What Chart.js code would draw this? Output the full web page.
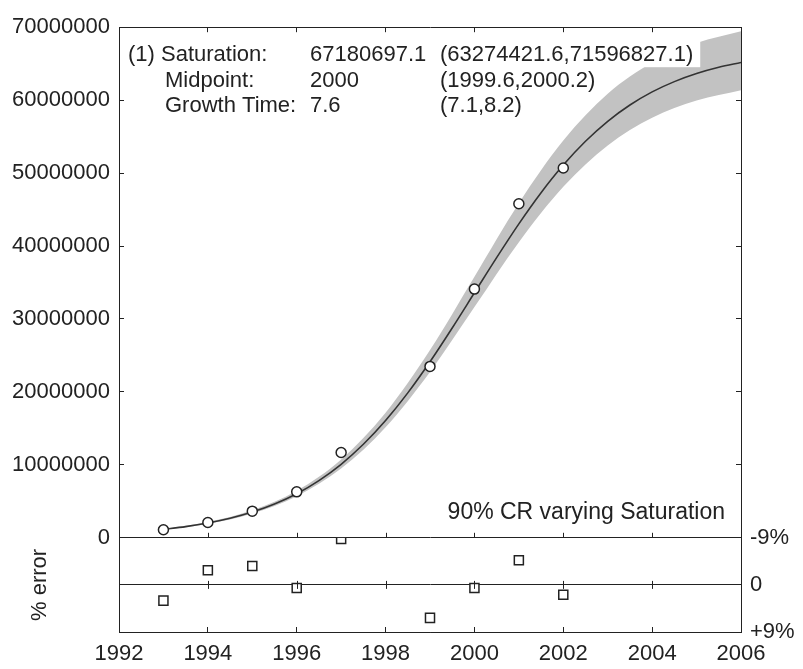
<!DOCTYPE html>
<html>
<head>
<meta charset="utf-8">
<script src="https://cdn.jsdelivr.net/npm/chart.js@4.4.1/dist/chart.umd.min.js"></script>
<style>
  html, body { margin: 0; padding: 0; background: #fff; }
</style>
</head>
<body>
<canvas id="logistic-chart" width="803" height="669"></canvas>
<script>
// observed points
const obsYears = [1993, 1994, 1995, 1996, 1997, 1999, 2000, 2001, 2002];
const obsValues = [1100000, 2100000, 3650000, 6300000, 11700000, 23500000, 34100000, 45800000, 50700000];
// percent error of each point (lower panel, -9% on top)
const errValues = [3.0, -2.8, -3.6, 0.6, -8.8, 6.3, 0.6, -4.7, 1.9];

// fitted curve, read every half year
const fitYears = [1993, 1993.5, 1994, 1994.5, 1995, 1995.5, 1996, 1996.5, 1997, 1997.5, 1998, 1998.5, 1999, 1999.5,
    2000, 2000.5, 2001, 2001.5, 2002, 2002.5, 2003, 2003.5, 2004, 2004.5, 2005, 2005.5, 2006];
const fitValues = [1150000, 1530000, 2030000, 2680000, 3530000, 4640000, 6050000, 7850000, 10080000, 12820000,
    16080000, 19870000, 24140000, 28770000, 33590000, 38410000, 43040000, 47310000, 51100000, 54360000,
    57100000, 59330000, 61130000, 62540000, 63650000, 64500000, 65160000];

// 90% CR band (varying saturation)
const bandYears = [1993, 1994, 1995, 1996, 1997, 1998, 1999, 2000, 2001, 2002, 2003, 2004, 2005, 2006];
const bandUpper = [1230000, 2160000, 3770000, 6450000, 10740000, 17140000, 25730000, 35800000, 45870000,
    54460000, 60860000, 65150000, 67830000, 69440000];
const bandLower = [1090000, 1910000, 3330000, 5700000, 9490000, 15150000, 22740000, 31640000, 40530000,
    48120000, 53780000, 57570000, 59940000, 61370000];

const xTicks = [1992, 1994, 1996, 1998, 2000, 2002, 2004, 2006];

const infoLines = [
    ['(1) Saturation:', '67180697.1', '(63274421.6,71596827.1)'],
    ['Midpoint:', '2000', '(1999.6,2000.2)'],
    ['Growth Time:', '7.6', '(7.1,8.2)']
];
const bandNote = '90% CR varying Saturation';

const ink = '#222';
const fontFamily = '"Liberation Sans", Arial, sans-serif';
const tickFont = { family: fontFamily, size: 22 };

const toPoints = (xs, ys) => xs.map((x, i) => ({ x: x, y: ys[i] }));
const setWidth = w => scale => { scale.width = w; };
const setHeight = h => scale => { scale.height = h; };

// keep the error squares inside their own panel
const clipErr = {
    id: 'clipErr',
    beforeDatasetDraw(chart, args) {
        if (args.meta.yAxisID !== 'yErr') return;
        const s = chart.scales.yErr, a = chart.chartArea;
        chart.ctx.save();
        chart.ctx.beginPath();
        chart.ctx.rect(a.left, s.top, a.right - a.left, s.bottom - s.top);
        chart.ctx.clip();
    },
    afterDatasetDraw(chart, args) {
        if (args.meta.yAxisID === 'yErr') chart.ctx.restore();
    }
};

// small x ticks on the separator and on the zero line
const panelTicks = {
    id: 'panelTicks',
    afterDraw(chart) {
        const { ctx, scales: { x, yErr } } = chart;
        const yTop = yErr.getPixelForValue(-9);
        const yMid = yErr.getPixelForValue(0);
        ctx.save();
        ctx.strokeStyle = ink;
        ctx.lineWidth = 1;
        ctx.beginPath();
        x.ticks.forEach(t => {
            const px = Math.round(x.getPixelForValue(t.value)) + 0.5;
            ctx.moveTo(px, yTop - 5); ctx.lineTo(px, yTop);
            ctx.moveTo(px, yMid - 4); ctx.lineTo(px, yMid + 4);
        });
        ctx.stroke();
        ctx.restore();
    }
};

// fit parameters text block
const infoText = {
    id: 'infoText',
    afterDatasetsDraw(chart) {
        const { ctx, chartArea: a, scales: { y } } = chart;
        const cols = [[9, 46], [191, 191], [321, 321]];
        const rows = [34, 59.5, 85];
        ctx.save();
        ctx.font = '22px ' + fontFamily;
        ctx.textBaseline = 'alphabetic';
        infoLines.forEach((line, r) => {
            const by = a.top + rows[r];
            const x0 = a.left + (r === 0 ? cols[0][0] : cols[0][1]);
            const last = line[line.length - 1];
            const x1 = a.left + cols[2][0] + ctx.measureText(last).width;
            ctx.fillStyle = '#fff';
            ctx.fillRect(x0 - 3, by - 20, x1 - x0 + 10, 26);
            ctx.fillStyle = ink;
            ctx.textAlign = 'left';
            ctx.fillText(line[0], x0, by);
            ctx.fillText(line[1], a.left + cols[1][0], by);
            ctx.fillText(line[2], a.left + cols[2][0], by);
        });
        ctx.font = '23px ' + fontFamily;
        ctx.textAlign = 'right';
        ctx.fillText(bandNote, a.right - 16, y.getPixelForValue(0) - 19);
        ctx.restore();
    }
};

new Chart(document.getElementById('logistic-chart'), {
    type: 'line',
    data: {
        datasets: [{
            label: 'Data',
            data: toPoints(obsYears, obsValues),
            showLine: false,
            pointStyle: 'circle',
            pointRadius: 5,
            pointBackgroundColor: '#fff',
            pointBorderColor: ink,
            pointBorderWidth: 1.5,
            yAxisID: 'y'
        }, {
            label: '% error',
            data: toPoints(obsYears, errValues),
            showLine: false,
            pointStyle: 'rect',
            pointRadius: 6.4,
            pointBackgroundColor: '#fff',
            pointBorderColor: ink,
            pointBorderWidth: 1.5,
            yAxisID: 'yErr'
        }, {
            label: 'Fit',
            data: toPoints(fitYears, fitValues),
            borderColor: '#333',
            borderWidth: 1.6,
            pointRadius: 0,
            cubicInterpolationMode: 'monotone',
            yAxisID: 'y'
        }, {
            label: 'CR upper',
            data: toPoints(bandYears, bandUpper),
            borderWidth: 0,
            pointRadius: 0,
            backgroundColor: '#c2c2c2',
            fill: '+1',
            cubicInterpolationMode: 'monotone',
            yAxisID: 'y'
        }, {
            label: 'CR lower',
            data: toPoints(bandYears, bandLower),
            borderWidth: 0,
            pointRadius: 0,
            fill: false,
            cubicInterpolationMode: 'monotone',
            yAxisID: 'y'
        }]
    },
    options: {
        responsive: false,
        animation: false,
        events: [],
        plugins: { legend: { display: false }, tooltip: { enabled: false } },
        scales: {
            x: {
                type: 'linear', position: 'bottom', min: 1992, max: 2006,
                afterBuildTicks: s => { s.ticks = xTicks.map(v => ({ value: v })); },
                afterFit: setHeight(37),
                ticks: { font: tickFont, color: ink, padding: 14, maxRotation: 0, autoSkip: false, callback: v => String(v) },
                grid: { drawOnChartArea: false, tickLength: -5, color: ink },
                border: { color: ink }
            },
            xTop: {
                type: 'linear', position: 'top', min: 1992, max: 2006,
                afterBuildTicks: s => { s.ticks = xTicks.map(v => ({ value: v })); },
                afterFit: setHeight(22),
                ticks: { display: false },
                grid: { drawOnChartArea: false, tickLength: -5, color: ink },
                border: { color: ink }
            },
            y: {
                type: 'linear', position: 'left', stack: 'left', stackWeight: 515, weight: 1,
                min: 0, max: 70000000,
                afterFit: setWidth(119),
                ticks: { stepSize: 10000000, font: tickFont, color: ink, padding: 14, autoSkip: false, callback: v => String(v) },
                grid: { drawOnChartArea: false, tickLength: -5, color: ink },
                border: { color: ink }
            },
            yErr: {
                type: 'linear', position: 'left', stack: 'left', stackWeight: 95, weight: 0,
                min: -9, max: 9, reverse: true,
                afterFit: setWidth(119),
                ticks: { stepSize: 9, display: false },
                grid: { drawOnChartArea: true, drawTicks: false, color: ink },
                border: { color: ink },
                title: { display: true, text: '% error', font: { family: fontFamily, size: 22 }, color: ink, padding: { top: 27 } }
            },
            yR: {
                type: 'linear', position: 'right', stack: 'right', stackWeight: 515,
                min: 0, max: 70000000,
                afterFit: setWidth(62),
                ticks: { stepSize: 10000000, display: false },
                grid: { drawOnChartArea: false, tickLength: -5, color: ink },
                border: { color: ink }
            },
            yErrR: {
                type: 'linear', position: 'right', stack: 'right', stackWeight: 95,
                min: -9, max: 9, reverse: true,
                afterFit: setWidth(62),
                ticks: {
                    stepSize: 9, font: tickFont, color: ink, padding: 9, autoSkip: false,
                    callback: v => v === 0 ? '0' : (v > 0 ? '+' : '') + v + '%'
                },
                grid: { drawOnChartArea: false, drawTicks: false },
                border: { color: ink }
            }
        }
    },
    plugins: [clipErr, panelTicks, infoText]
});
</script>
</body>
</html>
